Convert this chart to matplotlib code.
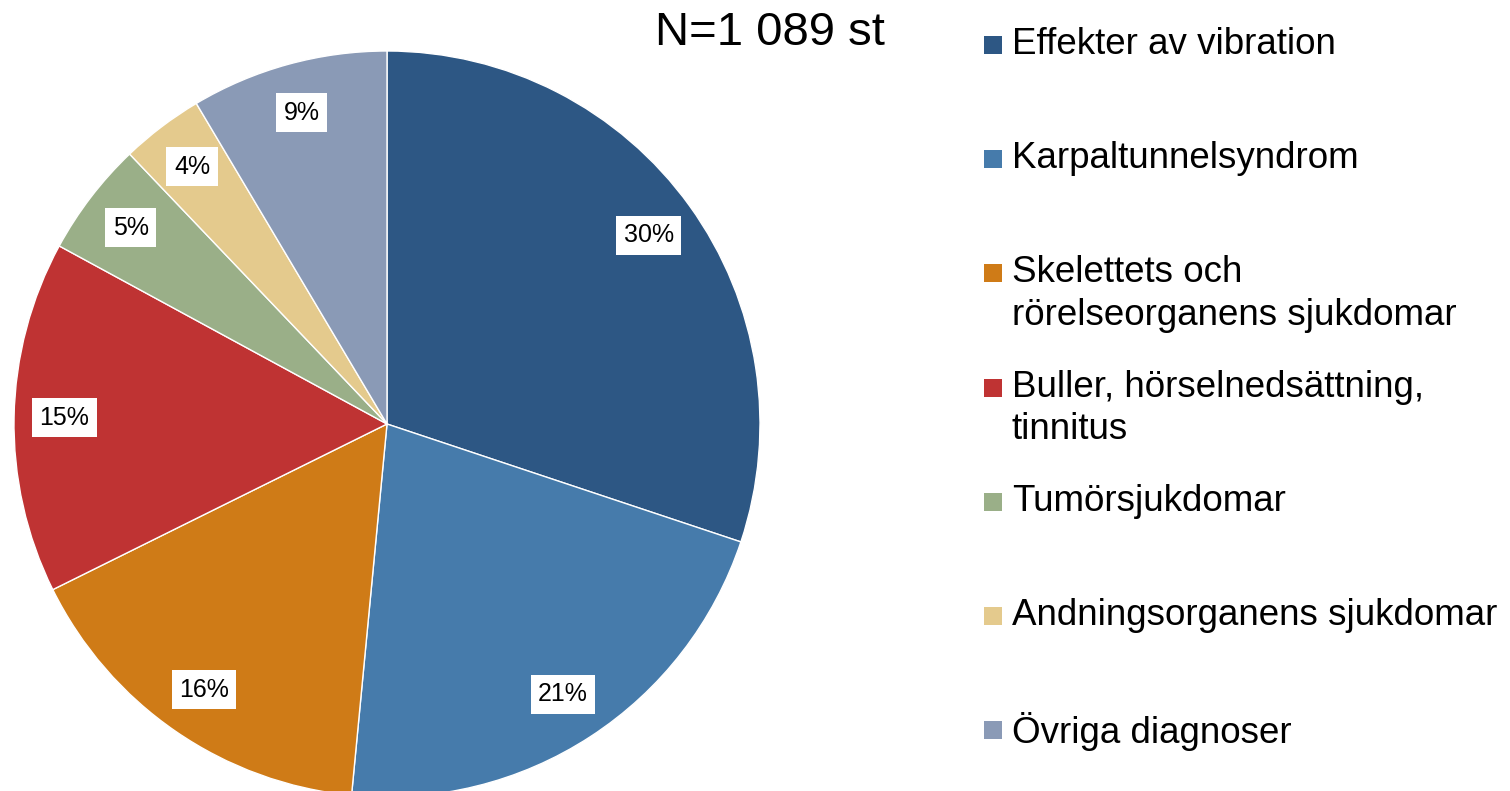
import matplotlib.pyplot as plt
from matplotlib.patches import Rectangle

plt.rcParams['font.family'] = ['Liberation Sans', 'DejaVu Sans']

# Data (counts, total 1 089)
labels = ['Effekter av vibration', 'Karpaltunnelsyndrom',
          'Skelettets och\nrörelseorganens sjukdomar',
          'Buller, hörselnedsättning,\ntinnitus', 'Tumörsjukdomar',
          'Andningsorganens sjukdomar', 'Övriga diagnoser']
counts = [328, 233, 176, 166, 54, 39, 93]
colors = ['#2D5784', '#467BAB', '#CF7B17', '#BF3333', '#9AAF88', '#E4CA8D', '#8A9AB6']
title = 'N=1 089 st'

W, H = 1510, 791
fig = plt.figure(figsize=(W / 100, H / 100), dpi=100)

# Pie axes: centre (387, 424) px, radius 373 px
cx, cy, r = 387, 424, 373
ax = fig.add_axes([(cx - r) / W, (H - cy - r) / H, 2 * r / W, 2 * r / H])
wedges, texts, autotexts = ax.pie(
    counts, colors=colors, startangle=90, counterclock=False,
    autopct='%1.0f%%', pctdistance=0.865, radius=1,
    wedgeprops=dict(edgecolor='white', linewidth=1),
    textprops=dict(fontsize=18, color='black'))
for t in autotexts:
    t.set_bbox(dict(facecolor='white', edgecolor='none', boxstyle='square,pad=0.3'))
ax.set_xlim(-1, 1)
ax.set_ylim(-1, 1)
ax.set_aspect('equal')
ax.axis('off')

fig.text(770 / W, 1 - 33 / H, title, fontsize=34, ha='center', va='center')

# Legend drawn by hand
y0, step = 43, 114.2
for i, (lab, col) in enumerate(zip(labels, colors)):
    y = y0 + i * step
    sq = 18
    fig.patches.append(Rectangle((984 / W, 1 - (y + 2 + sq / 2) / H), sq / W, sq / H,
                                 transform=fig.transFigure, facecolor=col,
                                 edgecolor='none'))
    fig.text(1012 / W, 1 - (y - 16) / H, lab, fontsize=26.5, ha='left', va='top',
             linespacing=1.27)

fig.savefig('out.png', dpi=100)
